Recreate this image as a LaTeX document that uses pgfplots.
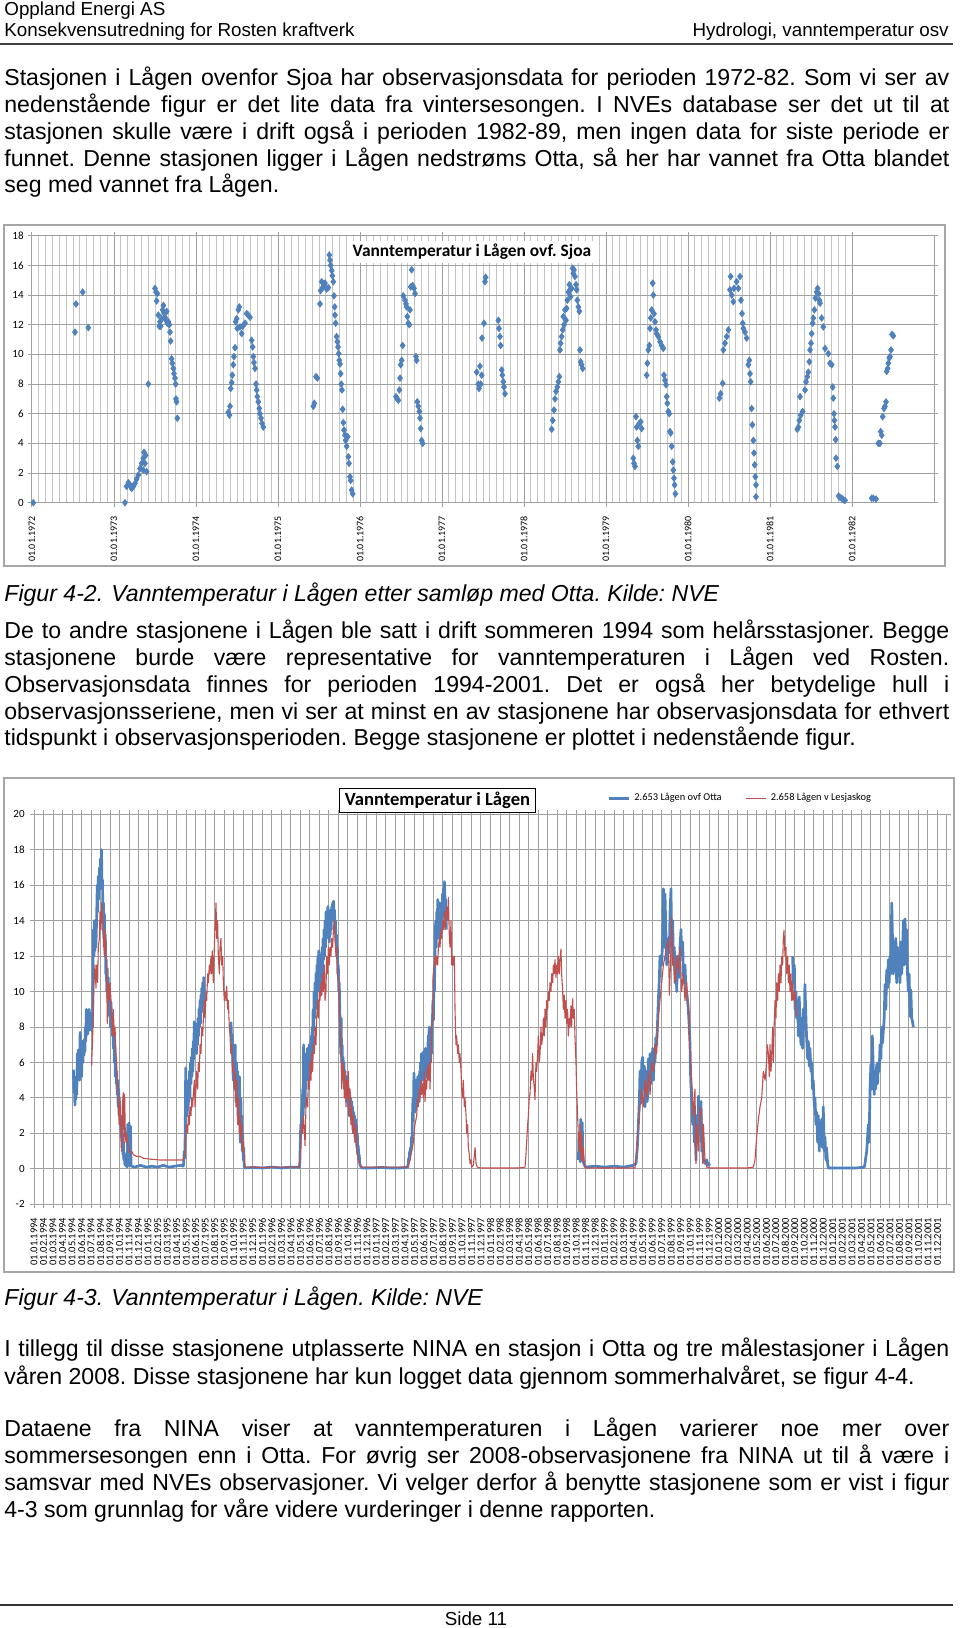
\documentclass[border=0pt]{standalone}
\usepackage{fontspec}
\setmainfont{Liberation Sans}
\newfontfamily\calibri{Carlito}
\usepackage{pgfplots}
\pgfplotsset{compat=1.18}
\frenchspacing

\definecolor{xblue}{HTML}{4F81BD}
\definecolor{xred}{HTML}{C0504D}
\definecolor{xgrid}{HTML}{A0A0A0}
\definecolor{xgridlt}{HTML}{C4C4C4}
\definecolor{xframe}{HTML}{A6A6A6}

\newcommand\body{\fontsize{11.55}{13.5}\selectfont}
\newcommand\hdr{\fontsize{9.4}{11}\selectfont}
\newcommand\jline[1]{\makebox[472.5pt][s]{#1}}

\begin{document}
\begin{tikzpicture}
% ---------------- page text (units: px of the 960x1628 page) ----------------
\begin{scope}[x=0.5pt,y=-0.5pt]
\path[use as bounding box] (0,0) rectangle (960,1628);
\node[anchor=base west,inner sep=0pt,font=\hdr] at (4,15) {Oppland Energi AS};
\node[anchor=base west,inner sep=0pt,font=\hdr] at (4,36) {Konsekvensutredning for Rosten kraftverk};
\node[anchor=base east,inner sep=0pt,font=\hdr] at (949,36) {Hydrologi, vanntemperatur osv};
\draw[line width=1pt,black!75] (0,44) -- (953,44);

\node[anchor=base west,inner sep=0pt,font=\body] at (4,85) {\jline{Stasjonen i Lågen ovenfor Sjoa har observasjonsdata for perioden 1972-82. Som vi ser av}};
\node[anchor=base west,inner sep=0pt,font=\body] at (4,112) {\jline{nedenstående figur er det lite data fra vintersesongen. I NVEs database ser det ut til at}};
\node[anchor=base west,inner sep=0pt,font=\body] at (4,139) {\jline{stasjonen skulle være i drift også i perioden 1982-89, men ingen data for siste periode er}};
\node[anchor=base west,inner sep=0pt,font=\body] at (4,166) {\jline{funnet. Denne stasjonen ligger i Lågen nedstrøms Otta, så her har vannet fra Otta blandet}};
\node[anchor=base west,inner sep=0pt,font=\body] at (4,192) {seg med vannet fra Lågen.};

\draw[xframe,line width=0.6pt] (4,225) rectangle (945,566);

\node[anchor=base west,inner sep=0pt,font=\body\itshape] at (4,601) {\makebox[53.5pt][l]{Figur 4-2.}Vanntemperatur i Lågen etter samløp med Otta. Kilde: NVE};

\node[anchor=base west,inner sep=0pt,font=\body] at (4,638) {\jline{De to andre stasjonene i Lågen ble satt i drift sommeren 1994 som helårsstasjoner. Begge}};
\node[anchor=base west,inner sep=0pt,font=\body] at (4,665) {\jline{stasjonene burde være representative for vanntemperaturen i Lågen ved Rosten.}};
\node[anchor=base west,inner sep=0pt,font=\body] at (4,692) {\jline{Observasjonsdata finnes for perioden 1994-2001. Det er også her betydelige hull i}};
\node[anchor=base west,inner sep=0pt,font=\body] at (4,719) {\jline{observasjonsseriene, men vi ser at minst en av stasjonene har observasjonsdata for ethvert}};
\node[anchor=base west,inner sep=0pt,font=\body] at (4,745) {tidspunkt i observasjonsperioden. Begge stasjonene er plottet i nedenstående figur.};

\draw[xframe,line width=0.6pt] (4,778) rectangle (954,1272);

\node[anchor=base west,inner sep=0pt,font=\body\itshape] at (4,1305) {\makebox[53.5pt][l]{Figur 4-3.}Vanntemperatur i Lågen. Kilde: NVE};

\node[anchor=base west,inner sep=0pt,font=\body] at (4,1356) {\jline{I tillegg til disse stasjonene utplasserte NINA en stasjon i Otta og tre målestasjoner i Lågen}};
\node[anchor=base west,inner sep=0pt,font=\body] at (4,1384) {våren 2008. Disse stasjonene har kun logget data gjennom sommerhalvåret, se figur 4-4.};

\node[anchor=base west,inner sep=0pt,font=\body] at (4,1436) {\jline{Dataene fra NINA viser at vanntemperaturen i Lågen varierer noe mer over}};
\node[anchor=base west,inner sep=0pt,font=\body] at (4,1463) {\jline{sommersesongen enn i Otta. For øvrig ser 2008-observasjonene fra NINA ut til å være i}};
\node[anchor=base west,inner sep=0pt,font=\body] at (4,1490) {\jline{samsvar med NVEs observasjoner. Vi velger derfor å benytte stasjonene som er vist i figur}};
\node[anchor=base west,inner sep=0pt,font=\body] at (4,1517) {4-3 som grunnlag for våre videre vurderinger i denne rapporten.};

\draw[line width=0.7pt,black!80] (0,1605) -- (953,1605);
\node[anchor=base,inner sep=0pt,font=\hdr] at (476,1625) {Side 11};
\end{scope}

% ---------------- Figur 4-2 ----------------
\begin{axis}[
  at={(16pt,-251.35pt)}, anchor=south west,
  scale only axis, width=451pt, height=133.5pt,
  xmin=0, xmax=11, ymin=0, ymax=18,
  xtick={0,...,10},
  xticklabels={01.01.1972,01.01.1973,01.01.1974,01.01.1975,01.01.1976,01.01.1977,01.01.1978,01.01.1979,01.01.1980,01.01.1981,01.01.1982},
  minor x tick num=11,
  ytick={0,2,...,18},
  grid=both,
  major grid style={xgrid,line width=0.5pt},
  minor grid style={xgridlt,line width=0.45pt},
  axis line style={xgrid,line width=0.5pt},
  tick align=outside, major tick length=2pt, minor tick length=0pt,
  tick style={xgrid,line width=0.5pt},
  /pgf/number format/assume math mode=true,
  yticklabel style={font=\calibri\fontsize{5.5}{6.6}\selectfont,inner sep=0pt,xshift=-2pt},
  xticklabel style={font=\calibri\fontsize{5}{6}\selectfont,rotate=90,anchor=east,inner sep=0pt,inner xsep=4.5pt},
]
\addplot[only marks, mark=diamond*, mark size=1.6pt, color=xblue] table {
x y
0.016 0.0
0.524 11.5
0.537 13.4
0.618 14.2
0.687 11.8
1.134 0.0
1.154 1.1
1.175 1.35
1.195 1.2
1.215 0.95
1.236 1.1
1.256 1.3
1.276 1.6
1.297 1.87
1.317 2.3
1.337 2.65
1.358 3.0
1.366 3.4
1.386 3.2
1.358 2.2
1.398 2.1
1.378 2.65
1.419 8.0
1.500 14.45
1.512 14.2
1.520 13.6
1.528 14.1
1.541 12.65
1.553 11.9
1.561 12.2
1.569 11.9
1.581 12.4
1.593 13.0
1.602 13.3
1.610 12.8
1.622 12.5
1.634 12.3
1.642 12.9
1.650 12.1
1.663 12.2
1.675 12.0
1.683 11.5
1.691 10.9
1.703 9.7
1.711 9.4
1.724 9.05
1.732 8.7
1.744 8.4
1.752 8.0
1.756 7.0
1.764 6.8
1.772 5.7
2.394 6.1
2.407 5.9
2.415 6.5
2.423 7.7
2.435 8.1
2.443 8.6
2.455 9.3
2.463 9.85
2.476 10.45
2.484 12.2
2.496 12.4
2.504 11.75
2.516 13.0
2.528 13.2
2.537 11.85
2.557 11.4
2.569 11.9
2.598 12.1
2.618 12.75
2.638 12.65
2.659 12.5
2.679 10.95
2.691 10.5
2.699 9.85
2.707 9.45
2.720 9.05
2.732 8.0
2.740 7.6
2.748 7.15
2.760 6.8
2.772 6.35
2.780 6.0
2.793 5.7
2.805 5.35
2.821 5.1
3.431 6.5
3.443 6.7
3.463 8.5
3.480 8.4
3.512 13.4
3.520 14.3
3.533 14.9
3.545 14.5
3.561 14.6
3.573 14.8
3.593 14.4
3.614 14.5
3.626 16.7
3.634 16.35
3.642 16.0
3.655 15.65
3.663 15.3
3.675 14.9
3.683 13.95
3.691 13.2
3.695 12.65
3.703 12.1
3.715 11.2
3.724 10.85
3.732 10.5
3.740 10.05
3.748 9.6
3.756 9.35
3.764 8.7
3.772 8.0
3.780 7.6
3.789 6.3
3.797 5.4
3.805 4.9
3.817 4.55
3.825 4.2
3.837 3.8
3.850 4.45
3.858 3.1
3.866 2.65
3.878 1.75
3.886 1.5
3.898 0.85
3.911 0.6
4.439 7.15
4.455 7.0
4.467 6.9
4.480 7.6
4.488 8.4
4.496 9.3
4.508 9.6
4.520 10.6
4.528 13.95
4.549 13.65
4.561 13.4
4.569 13.2
4.577 12.55
4.589 12.1
4.602 12.0
4.610 13.0
4.618 14.55
4.630 15.7
4.642 14.65
4.659 14.45
4.671 14.1
4.683 9.85
4.691 9.6
4.699 6.8
4.711 6.5
4.724 6.15
4.732 5.7
4.740 5.0
4.752 4.2
4.764 4.0
5.423 8.8
5.443 8.0
5.451 7.7
5.463 9.2
5.484 8.6
5.472 8.0
5.488 11.1
5.512 12.1
5.524 14.9
5.532 15.2
5.687 12.3
5.695 11.75
5.707 11.2
5.715 10.6
5.728 8.95
5.736 8.6
5.748 8.15
5.756 7.8
5.768 7.35
6.337 4.95
6.350 5.55
6.366 6.25
6.378 7.0
6.390 7.5
6.407 7.8
6.419 8.15
6.431 8.5
6.439 10.3
6.447 10.75
6.459 11.2
6.472 11.65
6.480 12.55
6.488 12.0
6.500 13.0
6.512 12.3
6.520 13.1
6.528 13.65
6.541 14.2
6.553 14.7
6.561 14.35
6.569 13.9
6.581 14.45
6.593 15.8
6.602 15.45
6.610 15.7
6.622 15.25
6.634 14.7
6.642 14.35
6.650 13.65
6.663 13.2
6.675 12.9
6.683 10.3
6.691 9.5
6.703 9.3
6.715 9.05
7.333 3.0
7.341 2.65
7.354 2.45
7.366 5.8
7.374 5.1
7.382 4.2
7.394 3.8
7.407 5.35
7.423 5.45
7.435 5.0
7.496 8.6
7.504 9.4
7.516 10.3
7.528 10.6
7.537 11.75
7.545 12.45
7.557 13.0
7.569 14.8
7.577 14.0
7.585 12.75
7.598 12.2
7.610 11.65
7.618 11.4
7.638 11.2
7.659 10.85
7.679 10.6
7.699 10.4
7.707 8.6
7.720 8.25
7.732 7.95
7.740 7.15
7.748 6.7
7.760 6.15
7.772 6.0
7.780 4.8
7.789 4.7
7.801 3.8
7.813 2.75
7.821 2.2
7.829 1.65
7.837 1.2
7.846 0.6
8.382 7.05
8.398 7.35
8.423 8.05
8.431 10.3
8.451 10.75
8.472 11.2
8.492 11.65
8.512 14.35
8.520 15.25
8.533 14.0
8.553 13.55
8.561 14.45
8.593 14.9
8.614 14.45
8.634 15.25
8.646 13.65
8.659 12.75
8.667 12.1
8.675 11.75
8.695 11.5
8.715 11.1
8.736 9.3
8.748 9.6
8.756 8.7
8.764 8.15
8.776 6.35
8.785 5.25
8.797 4.2
8.805 3.35
8.813 2.55
8.821 1.75
8.829 1.2
8.829 0.4
9.333 4.95
9.346 5.1
9.358 5.55
9.366 7.15
9.374 5.9
9.398 6.15
9.427 7.6
9.439 8.15
9.455 8.5
9.467 8.8
9.480 9.5
9.488 10.3
9.500 10.75
9.508 11.4
9.520 12.1
9.528 12.45
9.541 13.0
9.553 13.8
9.569 14.2
9.581 14.45
9.593 14.1
9.602 13.65
9.610 13.45
9.630 12.45
9.650 11.85
9.671 10.4
9.711 10.05
9.732 9.4
9.752 9.3
9.764 7.8
9.772 7.05
9.780 6.0
9.785 5.55
9.793 5.1
9.801 4.25
9.805 3.0
9.821 2.45
9.837 0.45
9.854 0.35
9.874 0.3
9.894 0.2
9.915 0.15
10.240 0.3
10.260 0.3
10.293 0.25
10.321 4.0
10.341 4.0
10.350 4.8
10.362 4.55
10.374 5.8
10.390 6.35
10.402 6.5
10.415 6.8
10.423 8.85
10.435 9.05
10.443 9.4
10.455 9.75
10.463 9.85
10.476 10.3
10.488 11.35
10.504 11.25
};
\end{axis}

% ---------------- Figur 4-3 ----------------
\begin{axis}[
  at={(17pt,-602.15pt)}, anchor=south west,
  scale only axis, width=456.5pt, height=195pt,
  xmin=0, xmax=96, ymin=-2, ymax=20,
  xtick={0,...,95},
  xticklabels={01.01.1994,01.02.1994,01.03.1994,01.04.1994,01.05.1994,01.06.1994,01.07.1994,01.08.1994,01.09.1994,01.10.1994,01.11.1994,01.12.1994,
    01.01.1995,01.02.1995,01.03.1995,01.04.1995,01.05.1995,01.06.1995,01.07.1995,01.08.1995,01.09.1995,01.10.1995,01.11.1995,01.12.1995,
    01.01.1996,01.02.1996,01.03.1996,01.04.1996,01.05.1996,01.06.1996,01.07.1996,01.08.1996,01.09.1996,01.10.1996,01.11.1996,01.12.1996,
    01.01.1997,01.02.1997,01.03.1997,01.04.1997,01.05.1997,01.06.1997,01.07.1997,01.08.1997,01.09.1997,01.10.1997,01.11.1997,01.12.1997,
    01.01.1998,01.02.1998,01.03.1998,01.04.1998,01.05.1998,01.06.1998,01.07.1998,01.08.1998,01.09.1998,01.10.1998,01.11.1998,01.12.1998,
    01.01.1999,01.02.1999,01.03.1999,01.04.1999,01.05.1999,01.06.1999,01.07.1999,01.08.1999,01.09.1999,01.10.1999,01.11.1999,01.12.1999,
    01.01.2000,01.02.2000,01.03.2000,01.04.2000,01.05.2000,01.06.2000,01.07.2000,01.08.2000,01.09.2000,01.10.2000,01.11.2000,01.12.2000,
    01.01.2001,01.02.2001,01.03.2001,01.04.2001,01.05.2001,01.06.2001,01.07.2001,01.08.2001,01.09.2001,01.10.2001,01.11.2001,01.12.2001},
  ytick={-2,0,...,20},
  grid=major,
  major grid style={xgrid,line width=0.5pt},
  axis line style={xgrid,line width=0.5pt},
  tick align=outside, major tick length=2pt,
  tick style={xgrid,line width=0.5pt},
  /pgf/number format/assume math mode=true,
  yticklabel style={font=\calibri\fontsize{5.5}{6.6}\selectfont,inner sep=0pt,xshift=-2.5pt},
  xticklabel style={font=\calibri\fontsize{5.25}{6}\selectfont,rotate=90,anchor=east,inner sep=0pt,inner xsep=4.5pt},
  legend image code/.code={\draw[#1] (0pt,0pt) -- (10pt,0pt);},
  legend columns=2,
  legend style={at={(0.628,1.041)}, anchor=west, draw=none, fill=none,
    font=\calibri\fontsize{5.2}{6}\selectfont, inner xsep=0pt, inner ysep=0pt,
    /tikz/every even column/.append style={column sep=10pt}},
  bluel/.style={xblue, line width=1.35pt, line join=round},
  redl/.style={xred, line width=0.55pt, line join=round},
]
% 2.653 Lågen ovf Otta
\addplot[bluel] table {
x y
4.14 5.6
4.20 4.3
4.25 5.2
4.30 3.6
4.35 4.8
4.40 3.9
4.45 5.1
4.50 4.2
4.55 6.5
4.60 5.3
4.65 6.7
4.70 5.6
4.75 6.3
4.80 5.0
4.85 7.7
4.90 6.1
4.95 6.9
5.00 5.2
5.05 6.4
5.10 7.2
5.15 6.0
5.20 7.1
5.25 6.4
5.30 7.3
5.35 6.6
5.40 8.0
5.45 7.2
5.50 9.0
5.55 8.0
5.60 8.7
5.65 7.6
5.70 8.5
5.75 7.8
5.80 9.0
5.85 8.0
5.90 8.8
5.95 7.9
6.00 8.6
6.05 7.8
6.10 8.4
6.15 8.0
6.20 11.0
6.25 13.5
6.30 12.0
6.35 14.0
6.40 12.3
6.45 13.2
6.50 12.5
6.55 13.3
6.60 14.5
6.65 16.0
6.70 14.5
6.75 16.5
6.80 15.2
6.85 16.3
6.90 17.0
6.95 15.8
7.00 17.5
7.05 16.4
7.10 18.0
7.15 16.0
7.20 16.3
7.25 14.2
7.30 15.0
7.35 13.0
7.40 14.4
7.45 12.5
7.50 13.2
7.55 11.0
7.60 11.8
7.65 10.0
7.70 11.3
7.75 9.6
7.80 10.8
7.85 9.5
7.90 10.2
7.95 8.6
8.00 9.8
8.05 8.0
8.10 9.4
8.15 8.2
8.20 8.8
8.25 7.5
8.30 8.0
8.35 6.8
8.40 7.7
8.45 6.0
8.50 7.0
8.55 5.2
8.60 6.3
8.65 4.8
8.70 5.5
8.75 4.2
8.80 5.0
8.85 3.5
8.90 4.5
8.95 3.0
9.00 3.8
9.05 2.5
9.10 3.0
9.15 1.8
9.20 2.6
9.25 1.2
9.30 2.0
9.35 0.8
9.40 1.5
9.45 0.5
9.50 0.9
9.55 0.3
9.60 0.2
9.65 0.5
9.70 0.15
9.75 0.2
9.80 0.1
9.85 2.5
9.90 0.4
9.95 0.2
10.00 2.6
10.05 0.3
10.10 0.5
10.15 2.4
10.20 0.2
10.25 0.15
10.6 0.1
11.2 0.2
11.8 0.1
12.4 0.15
13.0 0.1
13.6 0.2
14.2 0.1
14.8 0.15
15.4 0.2
15.70 0.15
15.75 0.4
15.80 1.0
15.85 0.6
15.90 2.0
15.95 5.7
16.00 3.5
16.05 4.5
16.10 3.0
16.15 4.2
16.20 3.3
16.25 5.0
16.30 3.8
16.35 5.5
16.40 4.0
16.45 6.0
16.50 4.8
16.55 6.3
16.60 5.2
16.65 6.8
16.70 5.5
16.75 7.2
16.80 6.2
16.85 8.3
16.90 7.0
16.95 8.2
17.00 6.8
17.05 7.5
17.10 6.5
17.15 7.8
17.20 7.0
17.25 8.5
17.30 7.5
17.35 9.0
17.40 8.0
17.45 9.5
17.50 8.2
17.55 9.8
17.60 8.8
17.65 10.2
17.70 9.0
17.75 10.5
17.80 9.5
17.85 10.8
17.90 10.0
17.95 9.2
};
\addlegendentry{2.653 Lågen ovf Otta}
\addplot[bluel, forget plot] table {
x y
20.70 8.3
20.75 7.8
20.80 6.5
20.85 7.5
20.90 6.0
20.95 5.0
21.00 6.8
21.05 5.5
21.10 4.5
21.15 7.0
21.20 5.0
21.25 3.8
21.30 6.0
21.35 4.0
21.40 5.5
21.45 3.0
21.50 4.8
21.55 2.5
21.60 5.2
21.65 3.5
21.70 1.5
21.75 4.0
21.80 2.0
21.85 3.0
21.90 1.0
21.95 2.0
22.00 0.5
22.05 1.2
22.10 0.2
22.15 0.1
22.20 0.05
23.0 0.08
24.0 0.05
25.0 0.1
26.0 0.05
27.0 0.1
27.90 0.08
27.95 0.3
28.00 1.5
28.05 2.5
28.10 2.0
28.15 3.5
28.20 2.5
28.25 4.5
28.30 3.0
28.35 7.0
28.40 4.0
28.45 6.0
28.50 3.5
28.55 5.5
28.60 4.5
28.65 6.5
28.70 5.0
28.75 6.8
28.80 5.2
28.85 6.2
28.90 5.0
28.95 7.0
29.00 5.5
29.05 6.5
29.10 5.8
29.15 7.5
29.20 6.2
29.25 8.0
29.30 7.0
29.35 9.0
29.40 7.8
29.45 10.0
29.50 8.5
29.55 10.5
29.60 9.0
29.65 11.0
29.70 9.5
29.75 11.5
29.80 10.0
29.85 12.0
29.90 10.5
29.95 12.3
30.00 11.0
30.05 10.0
30.10 11.5
30.15 9.8
30.20 11.0
30.25 10.5
30.30 12.5
30.35 11.0
30.40 13.0
30.45 11.8
30.50 13.5
30.55 12.0
30.60 14.0
30.65 12.5
30.70 14.5
30.75 13.0
30.80 14.2
30.85 13.5
30.90 14.8
30.95 13.8
31.00 14.2
31.05 12.8
31.10 14.0
31.15 13.2
31.20 14.6
31.25 13.5
31.30 14.8
31.35 14.0
31.40 15.0
31.45 14.2
31.50 15.1
31.55 14.0
31.60 14.6
31.65 13.5
31.70 14.0
31.75 12.8
31.80 13.2
31.85 12.0
31.90 12.5
31.95 11.0
32.00 11.5
32.05 10.0
32.10 10.5
32.15 9.0
32.20 8.0
32.25 6.5
32.30 8.5
32.35 6.0
32.40 7.0
32.45 5.5
32.50 6.3
32.55 5.0
32.60 6.0
32.65 4.5
32.70 5.5
32.75 4.2
32.80 5.0
32.85 3.8
32.90 5.2
32.95 4.0
33.00 4.8
33.05 3.5
33.10 4.5
33.15 3.0
33.20 4.3
33.25 3.5
33.30 4.0
33.35 2.8
33.40 3.8
33.45 2.5
33.50 3.5
33.55 2.2
33.60 3.2
33.65 2.0
33.70 3.0
33.75 1.8
33.80 2.8
33.85 1.5
33.90 2.5
33.95 1.2
34.00 2.0
34.05 0.8
34.10 1.3
34.15 0.5
34.20 0.8
34.25 0.3
34.30 0.2
34.40 0.1
34.50 0.05
35.5 0.05
36.5 0.08
37.5 0.05
38.5 0.05
39.30 0.1
39.35 0.3
39.40 0.6
39.45 0.5
39.50 1.0
39.55 0.8
39.60 1.2
39.65 1.0
39.70 1.8
39.75 1.5
39.80 3.0
39.85 4.0
39.90 3.2
39.95 5.4
40.00 3.8
40.05 4.5
40.10 3.2
40.15 5.0
40.20 3.6
40.25 4.8
40.30 4.0
40.35 5.2
40.40 4.2
40.45 4.8
40.50 3.8
40.55 5.5
40.60 4.2
40.65 6.0
40.70 4.8
40.75 6.5
40.80 5.0
40.85 6.2
40.90 5.2
40.95 6.6
41.00 5.5
41.05 6.2
41.10 5.0
41.15 6.8
41.20 5.5
41.25 6.0
41.30 5.2
41.35 6.5
41.40 5.8
41.45 7.5
41.50 6.2
41.55 8.0
41.60 6.5
41.65 7.5
41.70 6.0
41.75 7.0
41.80 6.5
41.85 8.0
41.90 8.5
41.95 9.5
42.00 8.4
42.05 11.0
42.10 10.0
42.15 11.5
42.20 13.5
42.25 14.0
42.30 12.5
42.35 14.5
42.40 13.0
42.45 15.2
42.50 13.5
42.55 14.8
42.60 13.0
42.65 15.0
42.70 13.2
42.75 14.6
42.80 13.5
42.85 15.0
42.90 13.8
42.95 15.5
43.00 14.2
43.05 15.8
43.10 14.5
43.15 16.2
43.20 15.5
43.25 14.8
43.30 15.2
43.35 13.5
};
\addplot[bluel, forget plot] table {
x y
57.25 0.5
57.30 2.0
57.35 0.8
57.40 1.5
57.45 0.4
57.50 2.8
57.55 1.0
57.60 0.5
57.65 2.6
57.70 0.8
57.80 0.3
57.90 0.2
58.00 0.1
59.0 0.15
60.0 0.1
61.0 0.15
62.0 0.1
63.0 0.2
63.30 0.3
63.44 1.2
63.55 2.5
63.66 4.0
63.72 5.5
63.83 3.7
63.90 6.0
64.00 6.3
64.07 4.5
64.18 5.8
64.25 3.5
64.33 5.0
64.42 5.5
64.48 3.8
64.53 4.2
64.60 6.2
64.66 4.6
64.71 5.0
64.78 6.5
64.86 4.8
64.95 5.5
65.06 6.8
65.13 5.0
65.22 6.4
65.30 6.0
65.38 7.4
65.47 7.0
65.56 8.2
65.65 9.5
65.76 10.8
65.82 12.0
66.00 11.5
66.10 13.0
66.18 15.8
66.28 12.5
66.35 15.5
66.46 13.0
66.53 11.5
66.63 12.0
66.70 13.0
66.80 12.2
66.88 14.5
66.98 15.8
67.05 12.5
67.16 14.0
67.23 11.5
67.33 12.5
67.40 10.5
67.51 11.8
67.58 10.0
67.66 12.0
67.75 11.5
67.84 10.8
67.93 12.5
68.03 13.5
68.10 12.0
68.21 12.8
68.28 11.0
68.39 10.5
68.45 11.5
68.55 10.2
68.63 10.0
68.72 9.5
68.80 9.0
68.90 8.0
68.98 7.0
69.05 5.0
69.15 4.0
69.26 2.5
69.33 3.5
69.43 1.5
69.50 2.5
69.61 0.5
69.68 3.0
69.79 1.5
69.86 4.1
69.96 2.0
70.03 3.0
70.14 3.8
70.21 1.0
70.31 2.5
70.38 0.5
70.56 0.3
70.73 0.5
70.91 0.2
71.08 0.3
};
\addplot[bluel, forget plot] table {
x y
79.77 12.0
79.84 10.5
79.95 11.5
80.02 9.0
80.12 10.0
80.19 8.5
80.30 9.5
80.37 7.5
80.47 9.7
80.54 8.0
80.65 7.0
80.72 8.5
80.82 6.8
80.89 9.0
81.00 8.0
81.06 10.4
81.17 8.5
81.24 7.4
81.35 6.2
81.42 7.2
81.52 5.8
81.59 6.8
81.70 5.5
81.77 6.0
81.87 4.5
81.94 5.0
82.05 3.5
82.12 4.0
82.22 2.5
82.29 3.2
82.40 1.5
82.47 3.0
82.57 1.0
82.64 2.2
82.75 1.5
82.82 2.8
82.92 1.2
82.99 3.5
83.10 1.0
83.17 1.8
83.27 0.5
83.34 1.2
83.45 0.3
83.52 0.05
84.5 0.05
85.5 0.05
86.5 0.05
87.30 0.1
87.38 0.3
87.45 0.6
87.56 1.0
87.65 1.8
87.73 2.5
87.80 1.5
87.91 4.5
88.00 5.9
88.08 4.5
88.15 7.5
88.26 5.5
88.35 4.2
88.43 5.5
88.50 4.5
88.61 5.9
88.70 4.8
88.78 6.0
88.87 5.5
88.96 7.0
89.05 6.2
89.13 8.0
89.22 7.1
89.31 7.8
89.40 8.5
89.48 10.4
89.57 9.0
89.66 11.2
89.74 10.2
89.83 11.8
89.92 10.5
90.01 12.0
90.10 11.0
90.19 15.0
90.27 13.0
90.36 11.0
90.45 12.8
90.54 11.5
90.62 13.0
90.71 10.5
90.80 12.5
90.89 11.2
90.97 12.2
91.06 10.5
91.15 12.8
91.24 11.0
91.32 12.0
91.41 14.0
91.50 11.5
91.59 14.1
91.67 12.0
91.76 13.5
91.85 11.0
91.94 10.0
92.02 11.0
92.11 8.6
92.20 10.1
92.29 8.5
92.38 8.3
92.46 8.0
};
% 2.658 Lågen v Lesjaskog
\addplot[redl] table {
x y
6.06 5.8
6.17 7.5
6.31 10.5
6.41 11.5
6.52 10.2
6.59 11.5
6.69 10.5
6.76 12.5
6.87 13.0
6.94 14.5
7.05 13.5
7.12 15.0
7.22 14.0
7.29 13.0
7.40 12.0
7.47 13.5
7.57 12.5
7.64 11.0
7.71 8.2
7.82 10.5
7.92 9.5
7.99 10.5
8.10 9.0
8.17 8.5
8.27 7.5
8.34 9.0
8.45 7.5
8.52 8.0
8.62 6.5
8.69 5.5
8.80 4.5
8.87 3.5
8.97 2.5
9.04 4.0
9.15 2.0
9.22 1.0
9.32 3.8
9.39 4.3
9.46 1.5
9.53 4.2
9.60 2.0
9.67 1.5
9.74 2.0
9.92 1.2
10.09 0.9
10.27 1.0
10.45 0.8
10.8 0.7
11.15 0.7
11.5 0.6
12.2 0.55
13.25 0.5
13.95 0.5
14.65 0.5
15.35 0.5
15.70 0.5
15.88 1.0
15.98 2.0
16.05 2.5
16.16 2.0
16.23 3.0
16.33 2.5
16.40 3.5
16.51 3.0
16.58 4.0
16.68 3.5
16.75 4.2
16.86 5.0
16.93 3.5
17.03 4.5
17.10 5.5
17.21 4.5
17.28 6.0
17.39 5.5
17.46 7.0
17.56 6.5
17.63 8.0
17.74 7.5
17.81 8.5
17.91 9.5
17.98 8.5
18.09 10.0
18.16 9.5
18.26 11.0
18.33 10.5
18.44 11.5
18.51 11.0
18.61 12.0
18.68 11.0
18.75 12.3
18.86 10.5
18.96 12.5
19.03 13.5
19.14 15.0
19.21 13.0
19.31 14.0
19.38 12.0
19.49 11.0
19.56 12.5
19.66 13.0
19.73 11.5
19.84 12.0
19.91 10.5
20.01 9.5
20.08 10.0
20.19 9.5
20.26 10.3
20.36 9.0
20.43 9.5
20.54 8.0
20.61 7.5
20.71 6.5
20.78 7.0
20.89 5.5
20.96 6.0
21.07 4.5
21.14 5.5
21.24 3.5
21.31 5.0
21.42 2.5
21.49 4.0
21.59 2.0
21.66 3.0
21.77 1.5
21.84 2.5
21.94 1.0
22.01 1.5
22.12 0.5
22.19 0.1
23.0 0.1
24.0 0.08
25.0 0.1
26.0 0.1
27.0 0.1
27.90 0.1
27.97 0.5
28.08 1.5
28.15 2.5
28.25 2.0
28.32 3.0
28.43 2.2
28.50 1.3
28.60 3.5
28.67 4.0
28.78 3.5
28.85 5.0
28.95 4.5
29.02 6.0
29.13 5.0
29.20 6.5
29.30 5.5
29.37 7.0
29.48 6.5
29.55 8.0
29.65 7.0
29.72 8.5
29.83 9.5
29.90 8.5
30.00 10.0
30.07 9.5
30.18 10.5
30.25 9.8
30.35 11.0
30.42 10.0
30.53 11.5
30.60 9.5
30.70 10.0
30.77 12.0
30.88 11.0
30.95 12.5
31.06 11.5
31.12 12.5
31.23 12.0
31.30 13.0
31.41 12.5
31.48 13.5
31.58 14.0
31.65 13.0
31.76 12.0
31.83 12.5
31.93 11.0
32.00 10.5
32.11 9.5
32.18 8.0
32.28 6.5
32.35 4.5
32.46 5.5
32.53 6.0
32.63 4.0
32.70 5.5
32.81 3.5
32.88 5.0
32.98 4.0
33.05 5.5
33.16 3.0
33.23 4.5
33.33 2.5
33.40 3.5
33.51 2.0
33.58 3.0
33.68 2.2
33.75 1.5
33.86 2.5
33.93 1.0
34.03 0.8
34.10 0.5
34.28 0.2
34.45 0.1
35.5 0.1
36.5 0.1
37.5 0.1
38.5 0.1
39.30 0.1
39.36 0.2
39.54 0.5
39.71 1.0
39.89 1.5
40.06 2.5
40.24 3.0
40.34 4.0
40.41 3.5
40.52 4.5
40.59 4.0
40.69 5.0
40.76 4.2
40.87 4.8
40.94 4.0
41.04 5.5
41.11 3.8
41.22 5.0
41.29 4.5
41.39 5.8
41.46 5.0
41.57 6.0
41.64 4.5
41.74 6.5
41.81 8.0
41.92 8.5
41.99 11.0
42.09 11.5
42.17 12.0
42.27 11.5
42.34 12.0
42.45 11.5
42.52 12.5
42.62 13.0
42.69 12.5
42.80 13.5
42.87 13.0
42.97 14.0
43.04 13.5
43.15 14.5
43.22 13.5
43.32 14.5
43.39 14.8
43.50 14.0
43.57 15.3
43.68 13.0
43.75 12.5
43.85 14.0
43.92 11.5
44.03 12.0
44.09 11.5
44.20 12.0
44.27 9.0
44.37 7.0
44.44 7.5
44.55 6.5
44.62 7.0
44.72 6.0
44.79 6.5
44.90 5.5
44.97 4.5
45.08 4.0
45.14 5.0
45.25 3.5
45.32 4.0
45.43 3.0
45.50 2.0
45.60 2.5
45.67 1.2
45.78 0.8
45.85 0.3
45.95 0.5
46.02 0.1
46.20 0.2
46.38 1.2
46.48 0.3
46.62 0.1
46.90 0.05
48.0 0.05
49.0 0.05
50.0 0.05
51.0 0.05
51.63 0.1
51.73 0.8
51.80 1.5
51.91 2.5
51.98 3.0
52.08 4.0
52.15 4.2
52.26 5.5
52.33 5.0
52.43 6.5
52.50 5.2
52.61 4.5
52.68 3.9
52.78 6.0
52.85 5.5
52.96 6.5
53.03 7.5
53.14 6.0
53.21 6.5
53.31 8.0
53.38 7.0
53.49 7.5
53.56 8.5
53.66 7.5
53.73 9.0
53.84 8.0
53.91 9.5
54.01 9.0
54.08 10.0
54.19 9.5
54.26 10.5
54.36 10.0
54.43 11.0
54.54 10.5
54.61 11.5
54.71 11.0
54.78 11.8
54.89 10.8
54.96 11.5
55.06 11.0
55.13 12.0
55.24 11.0
55.31 11.8
55.41 12.4
55.48 11.0
55.59 10.0
55.66 9.0
55.76 9.8
55.83 8.5
55.94 9.5
56.01 8.2
56.11 9.0
56.18 7.5
56.29 8.5
56.36 8.0
56.46 9.2
56.53 8.0
56.64 9.6
56.71 8.5
56.81 9.0
56.88 7.5
56.99 6.0
57.06 4.4
57.16 3.0
57.23 2.0
57.34 1.0
57.41 2.5
57.51 0.5
57.58 2.0
57.69 0.4
57.76 1.2
57.86 0.2
58.04 0.05
59.0 0.05
60.0 0.05
61.0 0.05
62.0 0.05
63.20 0.05
63.37 1.0
63.55 2.5
63.72 3.5
63.90 4.5
64.07 3.5
64.25 5.0
64.42 4.0
64.60 5.5
64.78 4.2
64.95 6.0
65.13 5.5
65.30 7.0
65.47 6.5
65.65 8.5
65.82 9.5
66.00 10.5
66.18 11.5
66.35 12.0
66.53 12.5
66.70 13.0
66.81 9.8
66.95 12.0
67.05 14.2
67.16 11.5
67.23 12.0
67.40 10.5
67.58 12.0
67.75 11.0
67.93 12.5
68.10 10.0
68.28 11.0
68.45 9.5
68.63 10.5
68.80 9.0
68.98 6.5
69.15 5.0
69.33 3.0
69.50 4.5
69.61 0.3
69.68 2.5
69.86 1.0
70.03 3.5
70.21 3.0
70.31 0.3
70.38 2.5
70.56 0.5
70.73 0.1
71.08 0.05
72.0 0.05
73.0 0.05
74.0 0.05
75.0 0.05
75.64 0.1
75.81 0.5
75.99 1.8
76.17 2.8
76.34 3.5
76.52 4.0
76.69 5.5
76.87 5.0
77.04 6.1
77.11 7.0
77.22 6.5
77.32 5.2
77.39 7.0
77.50 5.5
77.57 6.5
77.67 8.0
77.74 6.0
77.85 8.5
77.92 9.5
78.02 8.5
78.09 10.5
78.20 9.5
78.27 11.0
78.37 10.0
78.44 11.5
78.55 10.5
78.62 12.0
78.72 11.5
78.79 13.0
78.86 13.45
78.97 12.0
79.07 12.5
79.14 11.0
79.25 12.0
79.32 10.5
79.42 11.5
79.49 10.0
79.60 11.0
79.67 9.5
79.77 10.5
79.84 9.5
80.02 10.0
80.12 9.0
80.19 8.6
};
\addlegendentry{2.658 Lågen v Lesjaskog}
\end{axis}

% chart titles (over the gridlines)
\begin{scope}[x=0.5pt,y=-0.5pt]
\node[fill=white,inner xsep=2pt,inner ysep=1.5pt,font=\calibri\bfseries\fontsize{8.7}{10}\selectfont] at (472,252) {Vanntemperatur i Lågen ovf. Sjoa};
\node[draw=black,line width=0.5pt,fill=white,inner xsep=2.5pt,inner ysep=2pt,font=\calibri\bfseries\fontsize{9.3}{11}\selectfont] at (437.5,800.5) {Vanntemperatur i Lågen};
\end{scope}
\end{tikzpicture}
\end{document}
